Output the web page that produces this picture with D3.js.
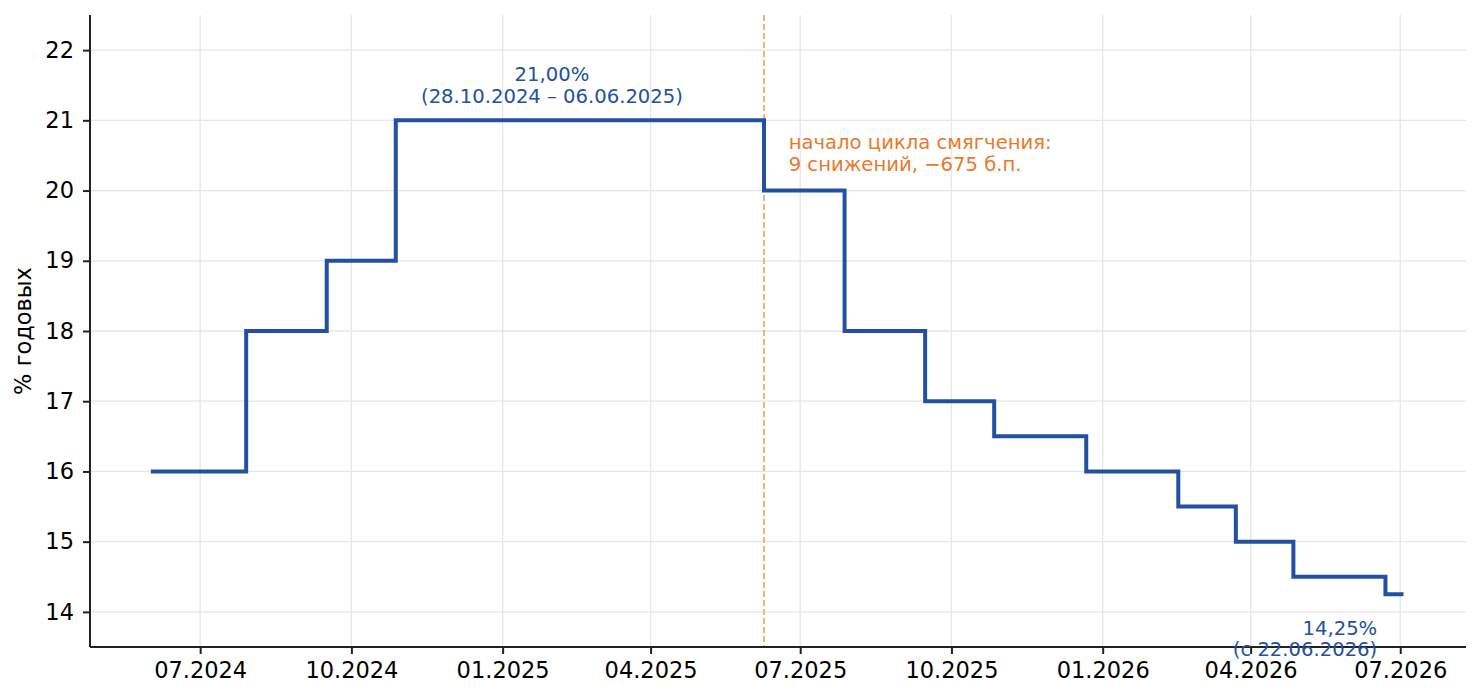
<!DOCTYPE html>
<html>
<head>
<meta charset="utf-8">
<script src="https://cdn.jsdelivr.net/npm/d3@7"></script>
<style>
  html, body { margin: 0; padding: 0; background: #fff; }
  svg { display: block; font-family: "DejaVu Sans", sans-serif; }
</style>
</head>
<body>
<svg id="chart" width="1480" height="700"></svg>
<script>
// ---- data ----
const stepDates = ["2024-06-01","2024-07-29","2024-09-16","2024-10-28","2025-06-09","2025-07-28","2025-09-15","2025-10-27","2025-12-22","2026-02-16","2026-03-23","2026-04-27","2026-06-22","2026-07-03"];
const stepRates = [16, 18, 19, 21, 20, 18, 17, 16.5, 16, 15.5, 15, 14.5, 14.25, 14.25];
const xTickDates = ["2024-07-01","2024-10-01","2025-01-01","2025-04-01","2025-07-01","2025-10-01","2026-01-01","2026-04-01","2026-07-01"];
const xTickLabels = ["07.2024","10.2024","01.2025","04.2025","07.2025","10.2025","01.2026","04.2026","07.2026"];
const yTicks = [14, 15, 16, 17, 18, 19, 20, 21, 22];
const easingStartDate = "2025-06-09";
const peakLabel = ["21,00%", "(28.10.2024 – 06.06.2025)"];
const peakLabelDate = "2025-01-31";
const peakLabelValue = 21;
const easingLabel = ["начало цикла смягчения:", "9 снижений, −675 б.п."];
const easingLabelDate = "2025-06-24";
const lastLabel = ["14,25%", "(с 22.06.2026)"];
const lastLabelDate = "2026-06-17";
const yLabel = "% годовых";

// ---- layout ----
const svg = d3.select("#chart");
const mLeft = 90, mRight = 1466, mTop = 15, mBottom = 647;
const parse = d3.utcParse("%Y-%m-%d");
const data = stepDates.map((d, i) => ({date: parse(d), v: stepRates[i]}));

const x = d3.scaleUtc()
  .domain([parse("2024-04-25"), parse("2026-08-10")])
  .range([mLeft, mRight]);
const y = d3.scaleLinear().domain([13.5, 22.5]).range([mBottom, mTop]);

const blue = "#2350a0";
const orange = "#e8792a";

// grid
const g = svg.append("g");
g.selectAll("line.vg").data(xTickDates).join("line")
  .attr("x1", d => x(parse(d))).attr("x2", d => x(parse(d)))
  .attr("y1", mTop).attr("y2", mBottom)
  .attr("stroke", "#e6e6e6").attr("stroke-width", 1.3);
g.selectAll("line.hg").data(yTicks).join("line")
  .attr("x1", mLeft).attr("x2", mRight)
  .attr("y1", d => y(d)).attr("y2", d => y(d))
  .attr("stroke", "#e6e6e6").attr("stroke-width", 1.3);

// dashed easing line
svg.append("line")
  .attr("x1", x(parse(easingStartDate))).attr("x2", x(parse(easingStartDate)))
  .attr("y1", mTop).attr("y2", mBottom)
  .attr("stroke", "#f0a060").attr("stroke-width", 1.6)
  .attr("stroke-dasharray", "6,3");

// step line
const line = d3.line().x(d => x(d.date)).y(d => y(d.v)).curve(d3.curveStepAfter);
svg.append("path").datum(data)
  .attr("d", line)
  .attr("fill", "none")
  .attr("stroke", blue)
  .attr("stroke-width", 4)
  .attr("stroke-linejoin", "miter");

// axes
const xAxis = d3.axisBottom(x)
  .tickValues(xTickDates.map(parse))
  .tickFormat((d, i) => xTickLabels[i])
  .tickSize(7).tickPadding(8).tickSizeOuter(0);
const yAxis = d3.axisLeft(y)
  .tickValues(yTicks)
  .tickSize(7).tickPadding(9).tickSizeOuter(0);

const gx = svg.append("g").attr("transform", `translate(0,${mBottom})`).call(xAxis);
const gy = svg.append("g").attr("transform", `translate(${mLeft},0)`).call(yAxis);
[gx, gy].forEach(a => {
  a.select(".domain").attr("stroke", "#222").attr("stroke-width", 2);
  a.selectAll(".tick line").attr("stroke", "#222").attr("stroke-width", 2);
  a.selectAll(".tick text").attr("fill", "#000")
    .style("font-family", "DejaVu Sans").style("font-size", "22.5px");
});
gx.select(".domain").attr("d", `M${mLeft},0H${mRight}`);
gy.select(".domain").attr("d", `M0,${mBottom}V${mTop}`);

// y label
svg.append("text")
  .attr("transform", `translate(31,${(mTop + mBottom) / 2}) rotate(-90)`)
  .attr("text-anchor", "middle")
  .style("font-size", "22.5px")
  .attr("fill", "#000")
  .text(yLabel);

// annotations
const ann = svg.append("g").style("font-size", "19.6px");
ann.selectAll("text.peak").data(peakLabel).join("text")
  .attr("x", x(parse(peakLabelDate)))
  .attr("y", (d, i) => y(peakLabelValue) - 39 + i * 22)
  .attr("text-anchor", "middle")
  .attr("fill", blue)
  .text(d => d);

ann.selectAll("text.ease").data(easingLabel).join("text")
  .attr("x", x(parse(easingLabelDate)))
  .attr("y", (d, i) => 149 + i * 21.5)
  .attr("text-anchor", "start")
  .attr("fill", orange)
  .text(d => d);

ann.selectAll("text.last").data(lastLabel).join("text")
  .attr("x", x(parse(lastLabelDate)))
  .attr("y", (d, i) => y(14.25) + 41 + i * 21)
  .attr("text-anchor", "end")
  .attr("fill", blue)
  .text(d => d);
</script>
</body>
</html>
